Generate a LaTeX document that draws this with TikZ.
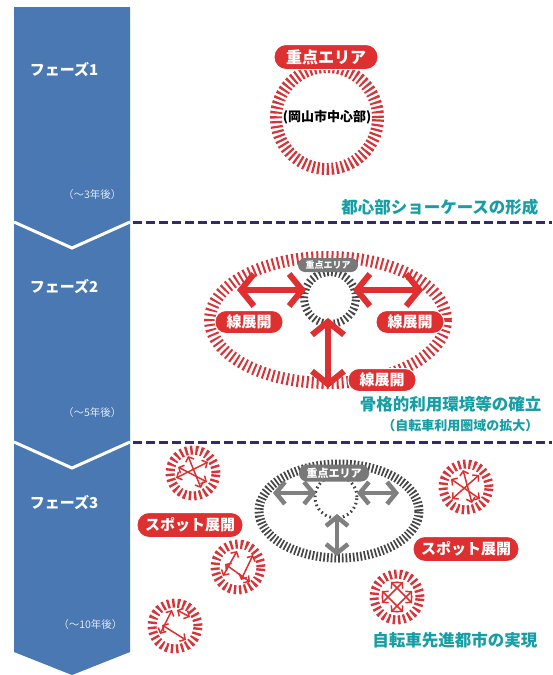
\documentclass[tikz,border=0pt]{standalone}
\usepackage{fontspec}
\newfontfamily\jp{Noto Sans CJK JP}
\usetikzlibrary{arrows.meta}
\definecolor{phblue}{RGB}{74,120,178}
\definecolor{phlight}{RGB}{225,232,244}
\definecolor{myred}{RGB}{222,48,48}
\definecolor{ringred}{RGB}{214,52,56}
\definecolor{dkgray}{RGB}{70,70,70}
\definecolor{mdgray}{RGB}{128,128,128}
\definecolor{lbgray}{RGB}{120,120,120}
\definecolor{navy}{RGB}{52,40,112}
\definecolor{goalteal}{RGB}{22,158,165}
\begin{document}
\begin{tikzpicture}[x=1pt,y=-1pt,
  phaselab/.style={text=white,font=\jp\bfseries\fontsize{15}{16}\selectfont},
  yrslab/.style={text=phlight,anchor=east,font=\jp\fontsize{10.5}{11}\selectfont},
  goallab/.style={text=goalteal,anchor=east,font=\jp\bfseries\fontsize{16.5}{18}\selectfont},
  redlab/.style={fill=myred,draw=white,line width=1pt,text=white,rounded corners=11pt,inner sep=0pt,
     minimum height=23pt,font=\jp\bfseries\fontsize{15}{16}\selectfont},
  graylab/.style={fill=lbgray,text=white,rounded corners=7pt,inner sep=0pt,font=\jp\bfseries\fontsize{9}{10}\selectfont},
  phasesep/.style={navy,line width=3pt,dash pattern=on 9pt off 4pt},
  redarr/.style={draw=myred,line width=6pt,{Straight Barb[length=13pt,width=32pt]}-{Straight Barb[length=13pt,width=32pt]}},
  grayarr/.style={draw=mdgray,line width=4.5pt,{Straight Barb[length=9pt,width=22pt]}-{Straight Barb[length=9pt,width=22pt]}},
  spotarr/.style={draw=myred,line width=1.5pt,{Straight Barb[length=4pt,width=9pt]}-{Straight Barb[length=4pt,width=9pt]}},
  spotring/.style={ringred,line width=9pt,dash pattern=on 2.4pt off 2.8pt}
]
\useasboundingbox (0,0) rectangle (552,675);
\fill[white] (0,0) rectangle (552,675);

% ---- blue phase column
\fill[phblue] (14,7) -- (130,7) -- (130,652) -- (72,675) -- (14,652) -- cycle;
\draw[white,line width=3pt] (14,222) -- (72,248) -- (130,222);
\draw[white,line width=3pt] (14,442) -- (72,468) -- (130,442);
\node[phaselab] (p1) at (64,70) {フェーズ1};
\node[phaselab] (p2) at (64,287) {フェーズ2};
\node[phaselab] (p3) at (64,503) {フェーズ3};
\node[yrslab] (y1) at (125,195) {（～3年後）};
\node[yrslab] (y2) at (125,413) {（～5年後）};
\node[yrslab] (y3) at (126,625) {（～10年後）};

% ---- separators
\coordinate (s1a) at (133,222); \coordinate (s1b) at (552,222);
\coordinate (s2a) at (133,442); \coordinate (s2b) at (552,442);
\draw[phasesep] (s1a) -- (s1b);
\draw[phasesep] (s2a) -- (s2b);

% ---- phase 1
\coordinate (c1) at (327,118);
\draw[ringred,line width=12pt,dash pattern=on 2.2pt off 2.6pt] (c1) circle[radius=51pt];
\node[redlab,minimum width=104pt,minimum height=25pt,rounded corners=12pt,font=\jp\bfseries\fontsize{16}{17}\selectfont] (k1) at (326,57) {重点エリア};
\node[font=\jp\bfseries\fontsize{13}{14}\selectfont] (okayama) at (327,117) {(岡山市中心部)};
\node[goallab] (g1) at (542,207) {都心部ショーケースの形成};

% ---- phase 2
\coordinate (c2) at (328,320);
\draw[ringred,line width=12pt,dash pattern=on 2pt off 3pt] (c2) ellipse[x radius=118pt,y radius=63pt];
\coordinate (c2s) at (330,298);
\draw[dkgray,line width=8pt,dash pattern=on 1.8pt off 2.4pt] (c2s) circle[radius=26pt];
\coordinate (a2l1) at (237,290); \coordinate (a2l2) at (306,290);
\coordinate (a2r1) at (353,290); \coordinate (a2r2) at (423,290);
\coordinate (a2d1) at (328,318); \coordinate (a2d2) at (328,388);
\draw[redarr] (a2l1) -- (a2l2);
\draw[redarr] (a2r1) -- (a2r2);
\draw[redarr] (a2d1) -- (a2d2);
\node[graylab,minimum width=60pt,minimum height=14pt] (k2) at (328,265) {重点エリア};
\node[redlab,minimum width=68pt] (l2a) at (249,322) {線展開};
\node[redlab,minimum width=68pt] (l2b) at (410,322) {線展開};
\node[redlab,minimum width=68pt] (l2c) at (382,380) {線展開};
\node[goallab] (g2) at (545,404) {骨格的利用環境等の確立};
\node[goallab,font=\jp\bfseries\fontsize{13}{14}\selectfont] (g2b) at (542,426) {（自転車利用圏域の拡大）};

% ---- phase 3
\coordinate (c3) at (339,511);
\draw[dkgray,line width=9pt,dash pattern=on 1.7pt off 2pt] (c3) ellipse[x radius=80pt,y radius=47pt];
\coordinate (c3s) at (336,497);
\draw[dkgray,line width=3pt,dash pattern=on 1.6pt off 3pt] (c3s) circle[radius=21pt];
\coordinate (a3l1) at (273,493); \coordinate (a3l2) at (316,493);
\coordinate (a3r1) at (357,493); \coordinate (a3r2) at (399,493);
\coordinate (a3d1) at (337,514); \coordinate (a3d2) at (337,556);
\draw[grayarr] (a3l1) -- (a3l2);
\draw[grayarr] (a3r1) -- (a3r2);
\draw[grayarr] (a3d1) -- (a3d2);
\node[graylab,minimum width=70pt,minimum height=17pt,rounded corners=8pt,font=\jp\bfseries\fontsize{11}{12}\selectfont] (k3) at (334,473) {重点エリア};

% spots
\begin{scope}[shift={(193,473)}]
  \draw[spotring] (0,0) circle[radius=23pt];
  \draw[spotarr] (-17,5) -- (15,-11);
  \draw[spotarr] (-5,-17) -- (8,15);
  \draw[spotarr] (-15,-6) -- (14,9);
\end{scope}
\begin{scope}[shift={(238,567)}]
  \draw[spotring] (0,0) circle[radius=23pt];
  \draw[spotarr] (-15,9) -- (-1,-16);
  \draw[spotarr] (-13,-3) -- (12,15);
  \draw[spotarr] (15,-12) -- (3,13);
\end{scope}
\begin{scope}[shift={(175,626)}]
  \draw[spotring] (0,0) circle[radius=23pt];
  \draw[spotarr] (-15,8) -- (-3,-16);
  \draw[spotarr] (-13,-1) -- (11,14);
  \draw[spotarr] (15,-9) -- (2,-16);
\end{scope}
\begin{scope}[shift={(466,487)}]
  \draw[spotring] (0,0) circle[radius=23pt];
  \draw[spotarr] (-15,-8) -- (14,12);
  \draw[spotarr] (-14,12) -- (13,-12);
  \draw[spotarr] (-3,-17) -- (6,16);
\end{scope}
\begin{scope}[shift={(397,597)}]
  \draw[spotring] (0,0) circle[radius=23pt];
  \draw[spotarr] (-15,6) -- (6,-15);
  \draw[spotarr] (-6,15) -- (15,-6);
  \draw[spotarr] (-15,-6) -- (6,15);
  \draw[spotarr] (-6,-15) -- (15,6);
\end{scope}

\node[redlab,minimum width=106pt,minimum height=25pt,rounded corners=12pt] (sp1) at (190,525) {スポット展開};
\node[redlab,minimum width=106pt,minimum height=25pt,rounded corners=12pt] (sp2) at (466,549) {スポット展開};
\node[goallab] (g3) at (541,640) {自転車先進都市の実現};
\end{tikzpicture}
\end{document}
